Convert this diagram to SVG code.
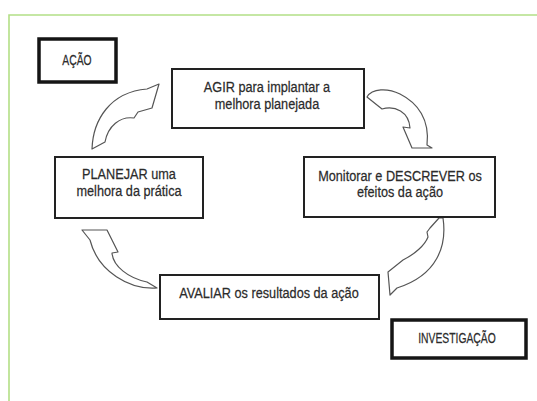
<svg xmlns="http://www.w3.org/2000/svg" width="537" height="401" viewBox="0 0 537 401">
<style>
.frame{fill:none;stroke:#b3df86;stroke-width:1.6}
.box{fill:#fff;stroke:#222;stroke-width:2}
.tbox{fill:#fff;stroke:#151515;stroke-width:3.5}
.arr{fill:#fff;stroke:#555;stroke-width:1.2;stroke-linejoin:round}
.t{font-family:"Liberation Sans",Arial,sans-serif;font-size:15.5px;fill:#2b2b2b;stroke:#2b2b2b;stroke-width:0.25;text-anchor:middle}
.tl{font-family:"Liberation Sans",Arial,sans-serif;font-size:15px;fill:#2b2b2b;stroke:#2b2b2b;stroke-width:0.25;text-anchor:middle}
</style>
<rect width="537" height="401" fill="#fff"/>
<path class="frame" d="M9,401 V15 H537"/>
<g id="connectors">
<path class="arr" d="M92,149 C93,120 110,92 147,89 L159,84 L152,108 L138,112 L134,118 C120,116 108,126 105,142 Z"/>
<path class="arr" d="M367,97 C372,88 388,88 400,94 C418,103 430,120 427,145 L432,148 L412,148 L403,127 L410,128 C409,112 395,105 382,109 Z"/>
<path class="arr" d="M439,218 L443,218 C447,245 438,275 397,288 L390,295 L388,272 L403,260 C415,254 425,245 428,237 L427,232 L430,228 Z"/>
<path class="arr" d="M157,288 C130,290 98,272 90,240 L82,230 L107,230 L118,252 L112,253 C113,266 128,278 147,282 Z"/>
</g>
<g id="acao">
<rect class="tbox" x="39" y="39" width="77" height="43"/>
<text class="tl" transform="translate(77,65) scale(0.69,1)">AÇÃO</text>
</g>
<g id="agir">
<rect class="box" x="172" y="69" width="192" height="59"/>
<text class="t" transform="translate(267,92) scale(0.82,1)">AGIR para implantar a</text>
<text class="t" transform="translate(267,109) scale(0.82,1)">melhora planejada</text>
</g>
<g id="planejar">
<rect class="box" x="55" y="157" width="148" height="61"/>
<text class="t" transform="translate(129,179) scale(0.82,1)">PLANEJAR uma</text>
<text class="t" transform="translate(129,196) scale(0.82,1)">melhora da prática</text>
</g>
<g id="monitorar">
<rect class="box" x="304" y="157" width="191" height="60"/>
<text class="t" transform="translate(400,181) scale(0.82,1)">Monitorar e DESCREVER os</text>
<text class="t" transform="translate(400,197) scale(0.82,1)">efeitos da ação</text>
</g>
<g id="avaliar">
<rect class="box" x="160" y="275" width="219" height="44"/>
<text class="t" transform="translate(269,298) scale(0.82,1)">AVALIAR os resultados da ação</text>
</g>
<g id="investigacao">
<rect class="tbox" x="392" y="320" width="134" height="38"/>
<text class="tl" transform="translate(457,343) scale(0.69,1)">INVESTIGAÇÃO</text>
</g>
</svg>
